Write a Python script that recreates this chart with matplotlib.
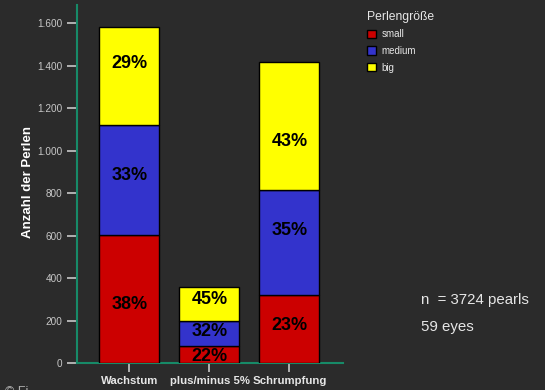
import matplotlib
matplotlib.use("Agg")
import matplotlib.pyplot as plt
from matplotlib.patches import Patch
from matplotlib.ticker import FuncFormatter
import numpy as np

plt.rcParams['font.family'] = ['Liberation Sans', 'DejaVu Sans']

# Pearl counts per development group, split by pearl size
categories = ["Wachstum", "plus/minus 5%", "Schrumpfung"]
small = [602, 80, 321]
medium = [521, 117, 493]
big = [461, 164, 604]
size_labels = ["small", "medium", "big"]
legend_title = "Perlengröße"
y_label = "Anzahl der Perlen"
note_lines = ["n  = 3724 pearls", "59 eyes"]

BG = "#2b2b2b"
AXIS_GREEN = "#178a68"
TICK_GREY = "#c8c8c8"
TEXT_LIGHT = "#e6e6e6"
colors = ["#cc0000", "#3333cc", "#ffff00"]

W, H = 545, 390
fig = plt.figure(figsize=(W / 100, H / 100), dpi=100, facecolor=BG)
ax = fig.add_axes([77 / W, 1 - 363.3 / H, (343 - 77) / W, (363.3 - 5) / H])
ax.set_facecolor(BG)

x = np.arange(len(categories))
series = [np.array(small), np.array(medium), np.array(big)]
totals = sum(series)
bottom = np.zeros(len(categories))

# vertical nudges (in points) for the percentage labels, per bar and segment
nudges = [[-4, 3, 9], [-1.5, 1.5, 3.5], [3, 9, -11]]

for si, (vals, col) in enumerate(zip(series, colors)):
    ax.bar(x, vals, width=0.75, bottom=bottom, color=col, edgecolor="black",
           linewidth=1.0, zorder=3)
    for bi in range(len(categories)):
        pct = vals[bi] / totals[bi] * 100
        ax.annotate(f"{pct:.0f}%", (x[bi], bottom[bi] + vals[bi] / 2),
                    xytext=(0, nudges[bi][si]), textcoords="offset points",
                    ha="center", va="center", fontsize=13, fontweight="bold",
                    color="black", zorder=4)
    bottom = bottom + vals

ax.set_xlim(-0.656, 2.67)
ax.set_ylim(0, 1686)
ax.set_yticks(np.arange(0, 1601, 200))
ax.yaxis.set_major_formatter(FuncFormatter(lambda v, p: f"{int(v):,}".replace(",", ".")))
ax.set_xticks(x)
ax.set_xticklabels(categories)

for side in ("top", "right"):
    ax.spines[side].set_visible(False)
for side in ("left", "bottom"):
    ax.spines[side].set_color(AXIS_GREEN)
    ax.spines[side].set_linewidth(1.5)

ax.tick_params(axis="y", direction="out", length=7, width=1.2, color=TICK_GREY,
               labelcolor=TICK_GREY, labelsize=7.2, pad=3.5)
ax.tick_params(axis="x", direction="out", length=6.5, width=1.2, color=TICK_GREY,
               labelcolor=TEXT_LIGHT, labelsize=8.2, pad=3)
for lab in ax.get_xticklabels():
    lab.set_fontweight("bold")

fig.text(28 / W, 1 - 182 / H, y_label, rotation=90, ha="center", va="center",
         fontsize=9.5, fontweight="bold", color="white")

handles = [Patch(facecolor=c, edgecolor="black", linewidth=1.0) for c in colors]
leg = fig.legend(handles, size_labels, title=legend_title, loc="upper left",
                 bbox_to_anchor=(358 / W, 1 - 2 / H), frameon=False,
                 fontsize=7, title_fontsize=8.7, handlelength=0.95, handleheight=0.95,
                 handletextpad=0.55, labelspacing=0.68, alignment="left",
                 labelcolor=TEXT_LIGHT)
leg.get_title().set_color(TEXT_LIGHT)

fig.text(421 / W, 1 - 300 / H, note_lines[0], ha="left", va="center",
         fontsize=10.8, color=TEXT_LIGHT)
fig.text(421 / W, 1 - 327 / H, note_lines[1], ha="left", va="center",
         fontsize=10.8, color=TEXT_LIGHT)

fig.text(5 / W, 1 - 386 / H, "© Fi", ha="left", va="top", fontsize=9,
         color="#b0b0b0")

fig.savefig("out.png", dpi=100, facecolor=BG)
